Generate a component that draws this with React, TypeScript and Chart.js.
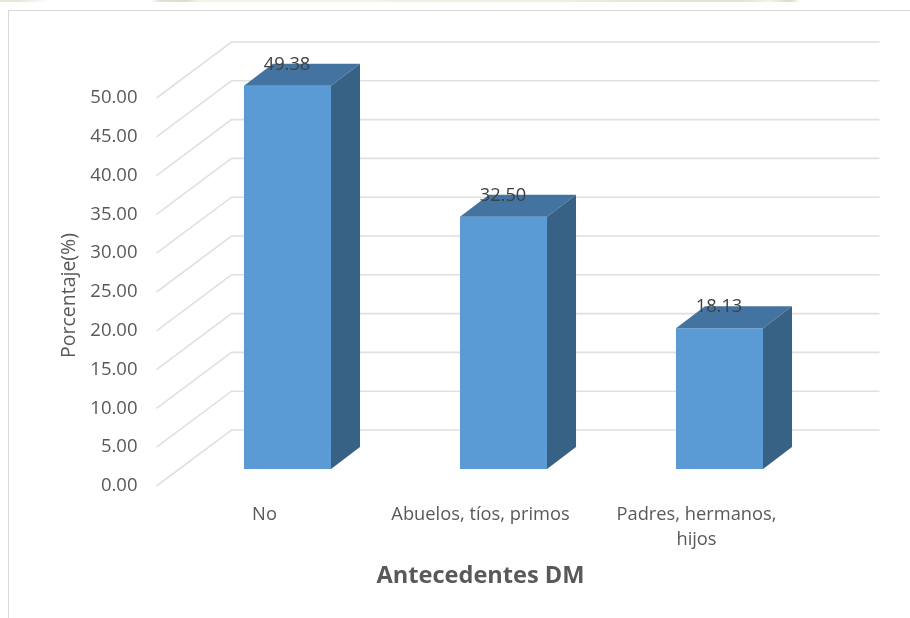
import React, { useEffect, useRef } from "react";
import { Chart, registerables } from "chart.js";

Chart.register(...registerables);

const categories = ["No", "Abuelos, tíos, primos", ["Padres, hermanos,", "hijos"]];
const values = [49.38, 32.5, 18.13];
const yTitle = "Porcentaje(%)";
const xTitle = "Antecedentes DM";

const FONT = '"Open Sans", sans-serif';
const WALL = { dx: 75, dy: -56 };
const BAR_SHIFT = { dx: 23, dy: -17 };
const BAR_DEPTH = { dx: 29, dy: -22 };

const depthPlugin = {
  id: "depth",
  afterLayout(chart: any) {
    chart.scales.y.bottom += 7;
  },
  beforeDatasetsDraw(chart: any) {
    const { ctx, chartArea, scales } = chart;
    ctx.save();
    ctx.strokeStyle = "#E0E0E0";
    ctx.lineWidth = 1.6;
    scales.y.ticks.forEach((t: any) => {
      const y = scales.y.getPixelForValue(t.value);
      ctx.beginPath();
      ctx.moveTo(chartArea.left, y);
      ctx.lineTo(chartArea.left + WALL.dx, y + WALL.dy);
      ctx.lineTo(chartArea.right + WALL.dx, y + WALL.dy);
      ctx.stroke();
    });
    ctx.restore();
  },
  beforeDatasetDraw(chart: any) {
    chart.ctx.save();
    chart.ctx.translate(BAR_SHIFT.dx, BAR_SHIFT.dy);
  },
  afterDatasetDraw(chart: any) {
    chart.ctx.restore();
  },
  afterDatasetsDraw(chart: any) {
    const { ctx } = chart;
    ctx.save();
    chart.getDatasetMeta(0).data.forEach((bar: any, i: number) => {
      const { x, y, base, width } = bar.getProps(["x", "y", "base", "width"], true);
      const l = x - width / 2 + BAR_SHIFT.dx;
      const r = x + width / 2 + BAR_SHIFT.dx;
      const t = y + BAR_SHIFT.dy;
      const b = base + BAR_SHIFT.dy;
      ctx.fillStyle = "#4374A1";
      ctx.beginPath();
      ctx.moveTo(l, t);
      ctx.lineTo(l + BAR_DEPTH.dx, t + BAR_DEPTH.dy);
      ctx.lineTo(r + BAR_DEPTH.dx, t + BAR_DEPTH.dy);
      ctx.lineTo(r, t);
      ctx.closePath();
      ctx.fill();
      ctx.fillStyle = "#376286";
      ctx.beginPath();
      ctx.moveTo(r, t);
      ctx.lineTo(r + BAR_DEPTH.dx, t + BAR_DEPTH.dy);
      ctx.lineTo(r + BAR_DEPTH.dx, b + BAR_DEPTH.dy);
      ctx.lineTo(r, b);
      ctx.closePath();
      ctx.fill();
      ctx.fillStyle = "#404040";
      ctx.font = `18.3px ${FONT}`;
      ctx.textAlign = "center";
      ctx.textBaseline = "middle";
      ctx.fillText(values[i].toFixed(2), x + BAR_SHIFT.dx - 0.5, t + BAR_DEPTH.dy + 0.5);
    });
    ctx.restore();
  },
};

export default function App() {
  const ref = useRef<HTMLCanvasElement>(null);
  useEffect(() => {
    document.body.style.margin = "0";
    document.body.style.background = "#fff";
    const chart = new Chart(ref.current as any, {
      type: "bar",
      data: {
        labels: categories as any,
        datasets: [
          {
            data: values,
            backgroundColor: "#5B9BD5",
            barPercentage: 0.403,
            categoryPercentage: 1,
          },
        ],
      },
      options: {
        animation: false,
        responsive: false,
        events: [],
        layout: { padding: { left: 57.5, top: 98, right: 105.5, bottom: 28 } },
        plugins: { legend: { display: false }, tooltip: { enabled: false } },
        scales: {
          x: {
            grid: { display: false, drawTicks: false },
            border: { display: false },
            ticks: {
              color: "#595959",
              font: { family: FONT, size: 18.3, lineHeight: 1.37 },
              maxRotation: 0,
              minRotation: 0,
              autoSkip: false,
              padding: 16.5,
            },
            title: {
              display: true,
              text: xTitle,
              color: "#595959",
              font: { family: FONT, size: 23.6, weight: "bold" },
              padding: { top: 10, bottom: 0 },
            },
            afterFit(s: any) {
              s.height = 104;
              s.paddingLeft = 0;
              s.paddingRight = 0;
            },
          },
          y: {
            min: 0,
            max: 50,
            grid: { display: false, drawTicks: false },
            border: { display: false },
            ticks: {
              stepSize: 5,
              color: "#595959",
              font: { family: FONT, size: 18.5 },
              padding: 19,
              callback: (v: any) => Number(v).toFixed(2),
            },
            title: {
              display: true,
              text: yTitle,
              color: "#595959",
              font: { family: FONT, size: 19.5 },
              padding: 0,
            },
            afterFit(s: any) {
              s.width = 99;
              s.paddingTop = 0;
              s.paddingBottom = 0;
            },
          },
        },
      },
      plugins: [depthPlugin],
    } as any);
    return () => chart.destroy();
  }, []);
  return (
    <div style={{ position: "relative", width: 910, height: 618, overflow: "hidden", background: "#fff" }}>
      <div
        style={{
          position: "absolute",
          left: 0,
          top: 0,
          width: 800,
          height: 2,
          background:
            "linear-gradient(90deg,#e6e6da 0,#e6e6da 18px,#fff 50px,#fff 150px,#e2e2d2 160px,#ddddc8 185px,#f3f3ea 200px,#efefe4 550px,#e6e6d8 640px,#e2e2d0 740px,#f4f4ec 770px,#ddd8c0 790px,#fff 800px)",
        }}
      />
      <div
        style={{
          position: "absolute",
          left: 8,
          top: 10,
          width: 902,
          height: 608,
          borderTop: "1px solid #D9D9D9",
          borderLeft: "1px solid #D9D9D9",
          boxSizing: "border-box",
        }}
      />
      <canvas ref={ref} width={910} height={618} style={{ position: "absolute", left: 0, top: 0 }} />
    </div>
  );
}
